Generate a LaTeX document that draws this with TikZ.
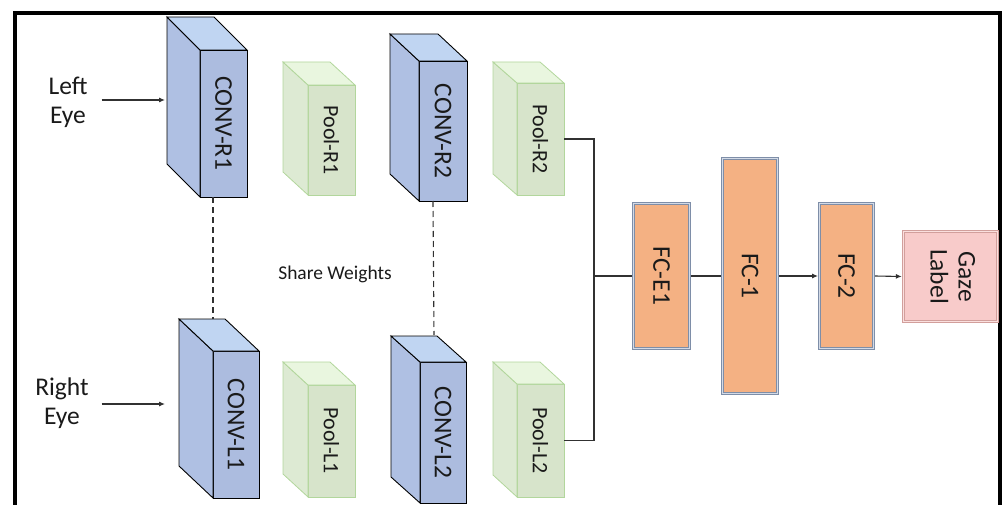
\documentclass[tikz,border=0pt]{standalone}
\usepackage{fontspec}
\setmainfont{Carlito}
\usepackage{graphicx}
\usetikzlibrary{calc,arrows.meta}
\definecolor{convfront}{HTML}{ACBCDF}
\definecolor{convsidec}{HTML}{AFC0E3}
\definecolor{convtopc}{HTML}{C0D5F2}
\definecolor{poolfront}{HTML}{D7E4CB}
\definecolor{poolsidec}{HTML}{DDEAD3}
\definecolor{pooltopc}{HTML}{E9F6DF}
\definecolor{poolline}{HTML}{B2D69C}
\definecolor{fcfill}{HTML}{F4B183}
\definecolor{fcline}{HTML}{7E8EA8}
\definecolor{fcgap}{HTML}{D3DAE6}
\definecolor{gazefill}{HTML}{F8CBCA}
\definecolor{gazeline}{HTML}{D29F9C}
\definecolor{txt}{HTML}{1A1A1A}
\tikzset{
  conv/.style={draw=black, line width=0.9pt, fill=convfront, inner sep=0pt, outer sep=0pt,
    text=txt, font=\fontsize{25.5}{30}\selectfont},
  convside/.style={draw=black, line width=0.9pt, fill=convsidec},
  convtop/.style={draw=black, line width=0.9pt, fill=convtopc},
  pool/.style={draw=poolline, line width=0.8pt, fill=poolfront, inner sep=0pt, outer sep=0pt,
    text=txt, font=\fontsize{22}{26}\selectfont},
  poolside/.style={draw=poolline, line width=0.8pt, fill=poolsidec},
  pooltop/.style={draw=poolline, line width=0.8pt, fill=pooltopc},
  fcbox/.style={draw=fcline, double=fcgap, double distance=1pt, line width=1pt, fill=fcfill,
    inner sep=0pt, outer sep=1.5pt, text=txt, font=\fontsize{25.5}{30}\selectfont},
  gazebox/.style={draw=gazeline, double=gazefill!60!white, double distance=1pt, line width=1.2pt, fill=gazefill,
    inner sep=0pt, outer sep=1.7pt, text=txt, font=\fontsize{25.5}{30}\selectfont},
  eyelabel/.style={align=center, inner sep=0pt, text=txt, font=\fontsize{25.5}{29}\selectfont},
  conn/.style={draw=txt!90, line width=1.1pt},
  arr/.style={conn, -{Latex[length=6pt,width=5pt]}},
  share/.style={draw=txt!90, line width=1.1pt, dash pattern=on 6pt off 4pt},
  frame/.style={draw=black, line width=4pt},
}
\newcommand{\cuboid}[9]{%
  \node[#8, minimum width=#4pt, minimum height=#5pt] (#1) at (#2,#3) {\rotatebox{-90}{#9}};
  \filldraw[#8side] (#1.north west) -- ++(-#6,-#7) -- ($(#1.south west)+(-#6,-#7)$) -- (#1.south west) -- cycle;
  \filldraw[#8top] (#1.north west) -- ++(-#6,-#7) -- ($(#1.north east)+(-#6,-#7)$) -- (#1.north east) -- cycle;
}
\begin{document}
\begin{tikzpicture}[x=1pt, y=-1pt]
\useasboundingbox (0,0) rectangle (1003,505);
\begin{scope}
\clip (0,0) rectangle (1003,505);
\draw[frame] (15,520) -- (15,13) -- (1000,13) -- (1000,520);
\end{scope}

% input labels
\node[eyelabel] (le) at (68,102) {Left\\Eye};
\node[eyelabel] (re) at (62,403) {Right\\Eye};

% cuboids
\cuboid{cr1}{223.5}{123.5}{47}{147}{33}{33}{conv}{CONV-R1}
\cuboid{pr1}{331.5}{140}{47}{110}{25}{23}{pool}{Pool-R1}
\cuboid{cr2}{443}{131}{48}{140}{29}{27}{conv}{CONV-R2}
\cuboid{pr2}{540.5}{139}{47}{112}{24}{21}{pool}{Pool-R2}
\cuboid{cl1}{236}{424.5}{46}{147}{34}{32}{conv}{CONV-L1}
\cuboid{pl1}{331.5}{441}{47}{112}{25}{23}{pool}{Pool-L1}
\cuboid{cl2}{443}{432.5}{46}{141}{29}{26}{conv}{CONV-L2}
\cuboid{pl2}{540.5}{440.5}{47}{113}{24}{22}{pool}{Pool-L2}

% input arrows
\coordinate (inR) at (165,100);
\coordinate (inL) at (165,404);
\draw[arr] ([xshift=14pt]le.east |- inR) -- (inR);
\draw[arr] ([xshift=14pt]le.east |- inL) -- (inL);

% share weights
\node[text=txt, font=\fontsize{19.5}{24}\selectfont, inner sep=0pt] (sw) at (335,274) {Share Weights};
\coordinate (s1) at ($(cl1.north west)+(0,-32)$);
\coordinate (s2) at ($(cl2.north west)+(14,-27)$);
\draw[share] ($(cr1.south west)+(13,0)$) -- (s1);
\draw[share] ($(cr2.south west)+(14,0)$) -- (s2);

% fully connected
\node[fcbox, minimum width=56pt, minimum height=145pt] (fce1) at (661.5,276) {\rotatebox{-90}{FC-E1}};
\node[fcbox, minimum width=55pt, minimum height=235pt] (fc1) at (750,276) {\rotatebox{-90}{FC-1}};
\node[fcbox, minimum width=54pt, minimum height=145pt] (fc2) at (846.5,276) {\rotatebox{-90}{FC-2}};
\node[gazebox, minimum width=94pt, minimum height=90pt] (gaze) at (950.5,276.5)
  {\rotatebox{-90}{\begin{tabular}{@{}c@{}}Gaze\\[-2pt]Label\end{tabular}}};

\coordinate (j) at (594,276);
\draw[conn] (pr2.east) -| (j);
\draw[conn] (pl2.east) -| (j);
\draw[conn] (j) -- (fce1.west);
\draw[conn] (fce1.east) -- (fc1.west);
\draw[arr] (fc1.east) -- (fc2.west);
\draw[arr] (fc2.east) -- (gaze.west);
\end{tikzpicture}
\end{document}
